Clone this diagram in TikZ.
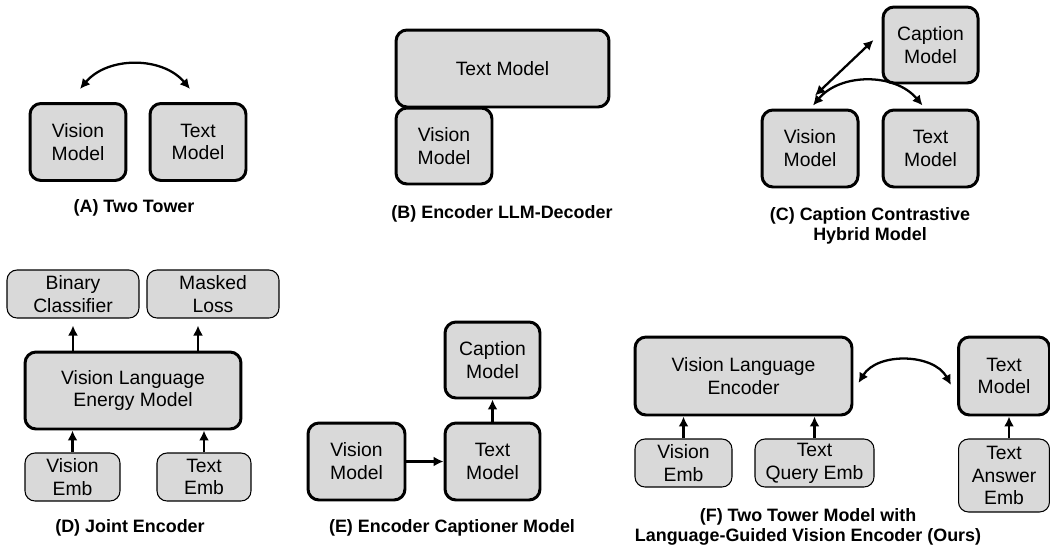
\documentclass[tikz,border=0pt]{standalone}
\usepackage{fontspec}
\setmainfont{Liberation Sans}
\usetikzlibrary{arrows.meta,calc}
\definecolor{boxgray}{HTML}{D9D9D9}

\begin{document}
\begin{tikzpicture}[x=0.02cm, y=-0.02cm,
    model/.style={draw, line width=1.7pt, rounded corners=0.22cm, fill=boxgray, inner sep=0pt,
                  align=center, font=\fontsize{11}{13}\selectfont, minimum height=1.54cm},
    emb/.style={draw, line width=0.6pt, rounded corners=0.2cm, fill=boxgray, inner sep=0pt,
                align=center, font=\fontsize{11}{13}\selectfont, minimum height=0.96cm},
    arr/.style={-{Latex[length=0.2cm,width=0.2cm]}, line width=1.3pt},
    darr/.style={{Latex[length=0.2cm,width=0.2cm]}-{Latex[length=0.2cm,width=0.2cm]}, line width=1.3pt},
    captext/.style={font=\bfseries\fontsize{10.2}{11.5}\selectfont, align=center}]

    \useasboundingbox (0,0) rectangle (1050,548);

    % (A) two tower
    \node[model, minimum width=1.92cm] (va) at (78,142) {Vision\\Model};
    \node[model, minimum width=1.92cm] (ta) at (198,142) {Text\\Model};
    \draw[darr] ([xshift=0.04cm,yshift=0.26cm]va.north) to[bend left=50] ([xshift=-0.16cm,yshift=0.26cm]ta.north);
    \node[captext] (capa) at (134,208) {(A) Two Tower};

    % (B) encoder LLM-decoder
    \node[model, minimum width=4.26cm] (tb) at (502.5,68.5) {Text Model};
    \node[model, minimum width=1.92cm, minimum height=1.52cm] (vb) at (444,146) {Vision\\Model};
    \node[captext] (capb) at (502,214) {(B) Encoder LLM-Decoder};

    % (C) caption contrastive hybrid
    \node[model, minimum width=1.9cm, minimum height=1.52cm] (cc) at (930.5,45) {Caption\\Model};
    \node[model, minimum width=1.92cm] (vc) at (810,148.5) {Vision\\Model};
    \node[model, minimum width=1.9cm] (tc) at (930.5,148.5) {Text\\Model};
    \draw[darr] ([xshift=0.1cm,yshift=0.26cm]vc.north) -- ([xshift=-0.16cm,yshift=0.1cm]cc.west);
    \draw[darr] ([xshift=0.06cm,yshift=0.06cm]vc.north) to[bend left=50] ([xshift=-0.16cm,yshift=0.06cm]tc.north);
    \node[captext] (capc) at (870,226) {(C) Caption Contrastive\\Hybrid Model};

    % (D) joint encoder
    \node[emb, minimum width=2.64cm] (bin) at (73,294) {Binary\\Classifier};
    \node[emb, minimum width=2.64cm] (mask) at (213,294) {Masked\\Loss};
    \node[model, minimum width=4.32cm] (vld) at (133,390.5) {Vision Language\\Energy Model};
    \node[emb, minimum width=1.9cm] (ved) at (72.5,477) {Vision\\Emb};
    \node[emb, minimum width=1.88cm] (ted) at (204,477) {Text\\Emb};
    \draw[arr, shorten >=0.14cm] (bin.south |- vld.north) -- (bin.south);
    \draw[arr, shorten >=0.14cm] ([xshift=-0.3cm]mask.south |- vld.north) -- ([xshift=-0.3cm]mask.south);
    \draw[arr] (ved.north) -- (ved.north |- vld.south);
    \draw[arr] (ted.north) -- (ted.north |- vld.south);
    \node[captext] (capd) at (130,528) {(D) Joint Encoder};

    % (E) encoder captioner
    \node[model, minimum width=1.9cm, minimum height=1.52cm] (ce) at (492.5,360) {Caption\\Model};
    \node[model, minimum width=1.9cm] (te) at (492.5,461.5) {Text\\Model};
    \node[model, minimum width=1.94cm] (ve) at (356.5,461.5) {Vision\\Model};
    \draw[arr] (ve.east) -- (te.west);
    \draw[arr] (te.north) -- (ce.south);
    \node[captext] (cape) at (452,528) {(E) Encoder Captioner Model};

    % (F) two tower with language-guided vision encoder
    \node[model, minimum width=4.34cm, minimum height=1.56cm] (vlf) at (743.5,376) {Vision Language\\Encoder};
    \node[model, minimum width=1.82cm, minimum height=1.56cm] (tf) at (1004,376) {Text\\Model};
    \node[emb, minimum width=1.94cm] (vef) at (683.5,463) {Vision\\Emb};
    \node[emb, minimum width=2.38cm] (tqf) at (814.5,463) {Text\\Query Emb};
    \node[emb, minimum width=1.82cm, minimum height=1.46cm] (taf) at (1004,475.5) {Text\\Answer\\Emb};
    \draw[arr] (vef.north) -- (vef.north |- vlf.south);
    \draw[arr] (tqf.north) -- (tqf.north |- vlf.south);
    \draw[arr] ([xshift=0.1cm]taf.north) -- ([xshift=0.1cm]tf.south);
    \draw[darr] ([xshift=0.1cm,yshift=-0.14cm]vlf.east) to[bend left=60] ([xshift=-0.12cm,yshift=-0.18cm]tf.west);
    \node[captext] (capf) at (808,527) {(F) Two Tower Model with\\Language-Guided Vision Encoder (Ours)};

\end{tikzpicture}
\end{document}
